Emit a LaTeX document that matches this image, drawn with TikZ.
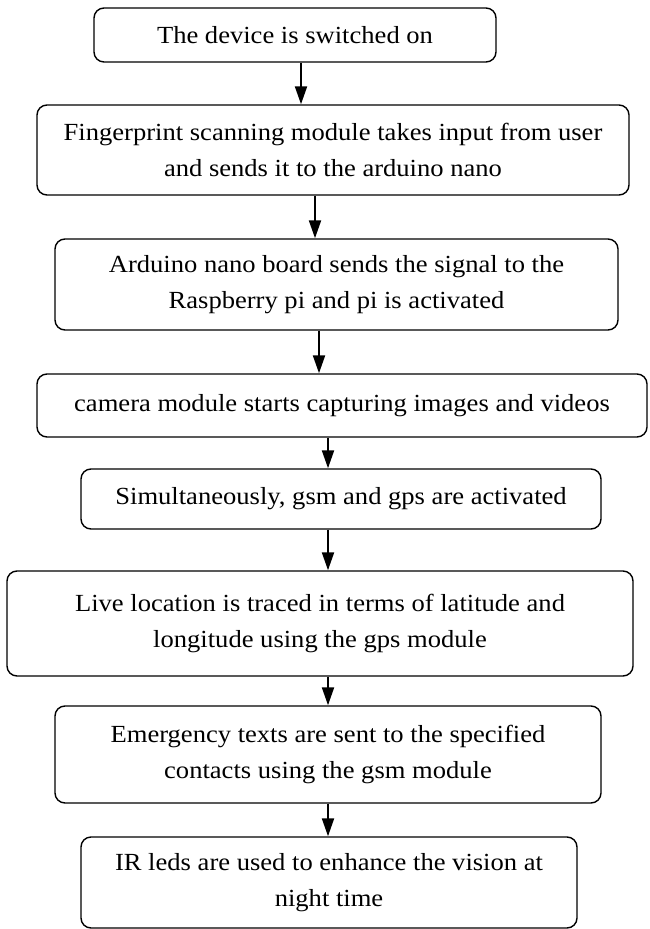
\documentclass[tikz,border=0pt]{standalone}
\usepackage{fontspec}
\setmainfont{Liberation Serif}[FakeStretch=1.08]
\usetikzlibrary{arrows.meta}

\begin{document}
\begin{tikzpicture}[x=0.5pt, y=-0.5pt, >={Triangle[length=9pt, width=6pt]},
  box/.style={draw, rounded corners=5pt, align=center, line width=0.7pt, inner sep=0pt, font=\fontsize{12.3}{18}\selectfont},
  arr/.style={->, line width=1pt}]
\useasboundingbox (0,0) rectangle (649,929);
\node[box, minimum width=201pt, minimum height=27pt] (S1) at (295,35) {The device is switched on};
\node[box, minimum width=296pt, minimum height=45pt] (S2) at (333,150) {Fingerprint scanning module takes input from user\\and sends it to the arduino nano};
\node[box, minimum width=281.5pt, minimum height=45.5pt] (S3) at (336.5,284.5) {Arduino nano board sends the signal to the\\Raspberry pi and pi is activated};
\node[box, minimum width=305pt, minimum height=31.5pt] (S4) at (342,405.5) {camera module starts capturing images and videos};
\node[box, minimum width=260pt, minimum height=30pt] (S5) at (341,499) {Simultaneously, gsm and gps are activated};
\node[box, minimum width=313pt, minimum height=52.5pt] (S6) at (320,623.5) {Live location is traced in terms of latitude and\\longitude using the gps module};
\node[box, minimum width=273pt, minimum height=48.5pt] (S7) at (328,754.5) {Emergency texts are sent to the specified\\contacts using the gsm module};
\node[box, minimum width=248pt, minimum height=45.5pt] (S8) at (329,882.5) {IR leds are used to enhance the vision at\\night time};
\draw[arr] ([xshift=3pt]S1.south) -- ([xshift=-16pt]S2.north);
\draw[arr] ([xshift=-9pt]S2.south) -- ([xshift=-10.75pt]S3.north);
\draw[arr] ([xshift=-8.75pt]S3.south) -- ([xshift=-11.5pt]S4.north);
\draw[arr] ([xshift=-7pt]S4.south) -- ([xshift=-6.5pt]S5.north);
\draw[arr] ([xshift=-6.5pt]S5.south) -- ([xshift=4pt]S6.north);
\draw[arr] ([xshift=4pt]S6.south) -- (S7.north);
\draw[arr] (S7.south) -- ([xshift=-0.5pt]S8.north);
\end{tikzpicture}
\end{document}
